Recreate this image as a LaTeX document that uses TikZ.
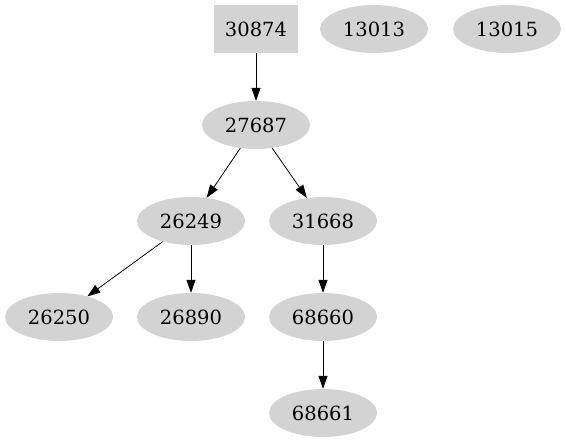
\documentclass[tikz,border=0pt]{standalone}
\usepackage{fontspec}
\setmainfont{DejaVu Serif}
\usetikzlibrary{arrows.meta, shapes.geometric}
\definecolor{nodegray}{HTML}{D3D3D3}

\tikzstyle{myarrow}=[-{Triangle[length=13pt,width=9pt]}, line width=0.8pt]
\tikzstyle{oval}=[ellipse, fill=nodegray, minimum width=108pt, minimum height=48pt, inner sep=0pt, font=\fontsize{19.5}{23}\selectfont]
\tikzstyle{box}=[rectangle, fill=nodegray, minimum width=84pt, minimum height=48pt, inner sep=0pt, font=\fontsize{19.5}{23}\selectfont]

\begin{document}
\begin{tikzpicture}[x=1pt, y=-1pt]

		    \useasboundingbox (0, 0) rectangle (566, 443);

		    \node (n30874) at (256, 29) [box] {30874};
		    \node (n13013) at (374, 29) [oval] {13013};
		    \node (n13015) at (507, 29) [oval] {13015};
		    \node (n27687) at (256, 125) [oval] {27687};
		    \node (n26249) at (191, 221) [oval] {26249};
		    \node (n31668) at (323, 221) [oval] {31668};
		    \node (n26250) at (59, 317) [oval] {26250};
		    \node (n26890) at (191, 317) [oval] {26890};
		    \node (n68660) at (323, 317) [oval] {68660};
		    \node (n68661) at (323, 413) [oval] {68661};

			\draw[myarrow] (n30874) -- (n27687);
			\draw[myarrow] (n27687) -- (n26249);
			\draw[myarrow] (n27687) -- (n31668);
			\draw[myarrow] (n26249) -- (n26250);
			\draw[myarrow] (n26249) -- (n26890);
			\draw[myarrow] (n31668) -- (n68660);
			\draw[myarrow] (n68660) -- (n68661);
		\end{tikzpicture}
\end{document}
